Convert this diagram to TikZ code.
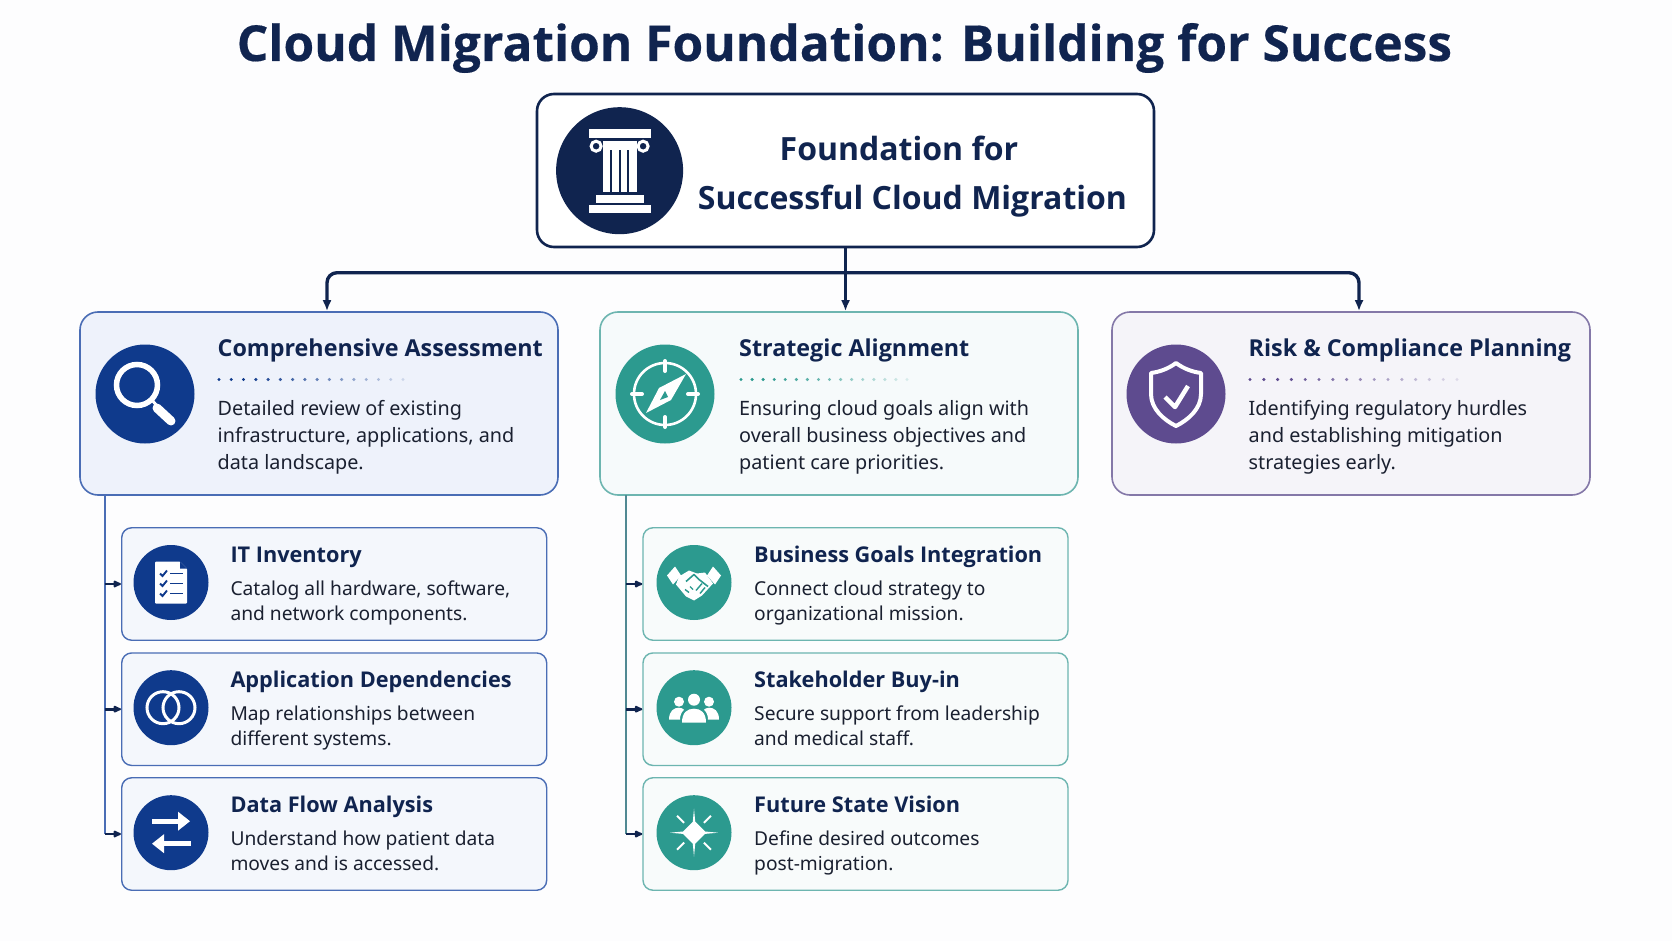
\documentclass[tikz,border=0pt]{standalone}
\usepackage{fontspec}
\setmainfont{Noto Sans}
\newfontfamily\hdfont{Open Sans}
\newfontfamily\bighdfont{Open Sans}[BoldFeatures={FakeBold=0.35}]
\usetikzlibrary{arrows.meta,calc}
\definecolor{pagebg}{HTML}{FDFDFE}
\definecolor{navy}{HTML}{10244F}
\definecolor{inktxt}{HTML}{1A2030}
\definecolor{bluec}{HTML}{0F3A8C}
\definecolor{blueln}{HTML}{4A6DB5}
\definecolor{bluefa}{HTML}{EEF2FB}
\definecolor{bluefb}{HTML}{F4F7FC}
\definecolor{tealc}{HTML}{2C9A8F}
\definecolor{tealln}{HTML}{6DB5B0}
\definecolor{tealfa}{HTML}{F6FAFB}
\definecolor{tealfb}{HTML}{F8FBFB}
\definecolor{purpc}{HTML}{5E4B8F}
\definecolor{purpln}{HTML}{8478A8}
\definecolor{purpfa}{HTML}{F5F4F9}
\newcommand{\figfont}[2]{\fontsize{#1}{#2}\selectfont}
\tikzset{
  x=1pt,y=-1pt,
  rootbox/.style={draw=navy,line width=2.6pt,rounded corners=17pt,fill=white,inner sep=0pt,minimum width=617pt,minimum height=153pt},
  mainbox/.style={rounded corners=18pt,line width=1.6pt,inner sep=0pt,minimum width=478pt,minimum height=183pt},
  subbox/.style={rounded corners=10pt,line width=1.4pt,inner sep=0pt,minimum width=425pt,minimum height=112.5pt},
  disc/.style={circle,inner sep=0pt,minimum size=#1},
  titletext/.style={anchor=base,inner sep=0pt,text=navy,font=\bighdfont\figfont{49.6}{54}\bfseries},
  roottext/.style={anchor=base,inner sep=0pt,text=navy,font=\hdfont\figfont{32}{48}\bfseries},
  headtext/.style={anchor=base west,inner sep=0pt,text=navy,font=\hdfont\figfont{23.3}{28}\bfseries},
  subhead/.style={anchor=base west,inner sep=0pt,text=navy,font=\hdfont\figfont{21.7}{26}\bfseries},
  bodytext/.style={anchor=base west,inner sep=0pt,text=inktxt,font=\figfont{19.8}{26.9},align=left},
  subtext/.style={anchor=base west,inner sep=0pt,text=inktxt,font=\figfont{19.2}{25},align=left},
  trunk/.style={draw=navy,line width=3.4pt},
  stem/.style={line width=1.8pt},
  branch/.style={draw=navy,line width=2.8pt,-{Latex[length=10pt,width=8.5pt,round]}},
}
\newcommand{\dotrow}[3]{%
  \foreach \k in {0,...,15}{
    \pgfmathsetmacro{\op}{min(1,1.15-\k/15)}
    \fill[#3,opacity=\op] ({#1+(#2-#1)*\k/15},379.5) circle (1.7);
  }}
\begin{document}
\begin{tikzpicture}
\useasboundingbox (0,0) rectangle (1672,941);
\fill[pagebg] (0,0) rectangle (1672,941);

\node[titletext] (title) at (844.5,61) {Cloud Migration Foundation: Building for Success};

% root
\node[rootbox] (root) at (845.5,170.5) {};
\node[disc=127pt,fill=navy] (rootdisc) at (619.6,170.7) {};
\node[roottext] (rootl1) at (899,161) {Foundation for};
\node[roottext] (rootl2) at (912.5,210) {Successful Cloud Migration};
\begin{scope}[shift={(rootdisc.center)}]
  \fill[white] (-31,-41.5) rectangle (31,-32.5);
  \fill[white] (-17,-30) rectangle (17,-23.5);
  \draw[white,line width=3pt,fill=navy] (-23.5,-24.5) circle (5);
  \draw[white,line width=3pt,fill=navy] (23.5,-24.5) circle (5);
  \fill[white] (-17,-23.5) rectangle (17,21);
  \foreach \fx in {-9,0,8}{\fill[navy] (\fx-0.9,-21) rectangle (\fx+0.9,21);}
  \fill[white] (-24,24.5) rectangle (24,32.5);
  \fill[white] (-31,34.5) rectangle (31,42.5);
\end{scope}

% main boxes
\node[mainbox,draw=blueln,fill=bluefa] (ca) at (319,403.5) {};
\node[mainbox,draw=tealln,fill=tealfa] (sa) at (839,403.5) {};
\node[mainbox,draw=purpln,fill=purpfa] (rc) at (1351,403.5) {};

% main connectors
\coordinate (bar) at (845.5,272.7);
\coordinate (cain) at ($(ca.north)+(8,0)$);
\coordinate (rcin) at ($(rc.north)+(8,0)$);
\coordinate (sain) at (root.south |- sa.north);
\draw[trunk,-{Latex[length=11pt,width=9pt]},rounded corners=10pt] (bar) -| (cain);
\draw[trunk,-{Latex[length=11pt,width=9pt]},rounded corners=10pt] (bar) -| (rcin);
\draw[trunk,-{Latex[length=11pt,width=9pt]}] (root.south) -- (sain);

% sub boxes
\foreach \nm/\yy in {a/584,b/709.2,c/834}{
  \node[subbox,draw=blueln,fill=bluefb] (ca\nm) at (334.2,\yy) {};
  \node[subbox,draw=tealln,fill=tealfb] (sa\nm) at (855.5,\yy) {};
}

% stems
\coordinate (castem) at (104.7,495);
\coordinate (sastem) at (626,495);
\draw[stem,blueln] (castem) -- (castem |- cac.west);
\draw[stem,tealln!70!navy] (sastem) -- (sastem |- sac.west);
\foreach \nm in {a,b,c}{
  \draw[branch] (castem |- ca\nm.west) -- (ca\nm.west);
  \draw[branch] (sastem |- sa\nm.west) -- (sa\nm.west);
}

% discs
\node[disc=99pt,fill=bluec] (d1) at (145,394) {};
\node[disc=99pt,fill=tealc] (d2) at (665,394) {};
\node[disc=99pt,fill=purpc] (d3) at (1176,394) {};
\foreach \nm/\yy in {a/582.5,b/707.7,c/832.7}{
  \node[disc=75pt,fill=bluec] (dca\nm) at (171,\yy) {};
  \node[disc=75pt,fill=tealc] (dsa\nm) at (694,\yy) {};
}

% main text
\node[headtext] (h1) at (217.5,356.7) {Comprehensive Assessment};
\node[headtext] (h2) at (739,356.7) {Strategic Alignment};
\node[headtext] (h3) at (1248.5,356.7) {Risk \& Compliance Planning};
\dotrow{219}{403}{bluec}
\dotrow{741}{907}{tealc}
\dotrow{1250}{1457}{purpc}
\node[bodytext] (b1) at (217.5,469) {Detailed review of existing\\infrastructure, applications, and\\data landscape.};
\node[bodytext] (b2) at (739,469) {Ensuring cloud goals align with\\overall business objectives and\\patient care priorities.};
\node[bodytext] (b3) at (1248.5,469) {Identifying regulatory hurdles\\and establishing mitigation\\strategies early.};

% sub text
\node[subhead] (ha) at (230.3,562.7) {IT Inventory};
\node[subtext] (ta) at (230.3,620) {Catalog all hardware, software,\\and network components.};
\node[subhead] (hb) at (230.3,687.7) {Application Dependencies};
\node[subtext] (tb) at (230.3,745) {Map relationships between\\different systems.};
\node[subhead] (hc) at (230.3,812.7) {Data Flow Analysis};
\node[subtext] (tc) at (230.3,870) {Understand how patient data\\moves and is accessed.};
\node[subhead] (hd) at (754,562.7) {Business Goals Integration};
\node[subtext] (td) at (754,620) {Connect cloud strategy to\\organizational mission.};
\node[subhead] (he) at (754,687.7) {Stakeholder Buy-in};
\node[subtext] (te) at (754,745) {Secure support from leadership\\and medical staff.};
\node[subhead] (hf) at (754,812.7) {Future State Vision};
\node[subtext] (tf) at (754,870) {Define desired outcomes\\post-migration.};

% icon: magnifier
\begin{scope}[shift={(d1.center)}]
  \draw[white,line width=5.5pt] (-8,-9) circle (20.5);
  \draw[white,line width=3pt] (7,6) -- (12,12);
  \draw[white,line width=9pt,line cap=round] (12,14) -- (26,27);
\end{scope}
% icon: compass
\begin{scope}[shift={(d2.center)}]
  \draw[white,line width=2.6pt] (0,0) circle (31);
  \foreach \a in {0,90,180,270}{
    \draw[white,line width=4pt,line cap=round] (\a:23) -- (\a:33);
  }
  \fill[white] (21,-20) -- (6,6) -- (-19,19) -- (-6,-6) -- cycle;
  \fill[tealc] (0,-3) -- (3,3) -- (-5,6) -- cycle;
\end{scope}
% icon: shield
\begin{scope}[shift={(d3.center)}]
  \draw[white,line width=4pt,line join=round] (0,-31) .. controls (8,-25) and (17,-22) .. (25,-21) -- (25,0) .. controls (25,15) and (12,26) .. (0,32) .. controls (-12,26) and (-25,15) .. (-25,0) -- (-25,-21) .. controls (-17,-22) and (-8,-25) .. (0,-31) -- cycle;
  \draw[white,line width=4.5pt,line join=round] (-11,3) -- (-1,13) -- (12,-8);
\end{scope}
% icon: checklist
\begin{scope}[shift={(dcaa.center)}]
  \fill[white,rounded corners=1pt] (-16,-21) -- (9,-21) -- (16,-14) -- (16,21) -- (-16,21) -- cycle;
  \fill[bluec] (9,-21) -- (9,-14) -- (16,-14) -- cycle;
  \foreach \cy in {-9,1,11}{
    \draw[bluec,line width=1.9pt] (-11,\cy) -- (-8.5,\cy+2.5) -- (-4,\cy-3);
    \draw[bluec,line width=1.9pt] (-1,\cy) -- (12,\cy);
  }
\end{scope}
% icon: rings
\begin{scope}[shift={(dcab.center)}]
  \draw[white,line width=3pt] (-8,0) circle (16);
  \draw[white,line width=3pt] (8,0) circle (16);
\end{scope}
% icon: arrows
\begin{scope}[shift={(dcac.center)}]
  \fill[white] (-19,-14) rectangle (8,-9);
  \fill[white] (7,-21) -- (19,-11.5) -- (7,-2) -- cycle;
  \fill[white] (-7,8.5) rectangle (20,13.5);
  \fill[white] (-7,1.5) -- (-19,11) -- (-7,20.5) -- cycle;
\end{scope}
% icon: handshake
\begin{scope}[shift={(dsaa.center)}]
  \fill[white] (-27,-7) -- (-19,-16) -- (-13,-7) -- (-21,2) -- cycle;
  \fill[white] (27,-7) -- (19,-16) -- (13,-7) -- (21,2) -- cycle;
  \fill[white] (-15,-6) -- (-5,-12) -- (3,-9) -- (11,-10) -- (19,1) -- (8,13) -- (0,18) -- (-8,14) -- (-18,2) -- cycle;
  \draw[tealc,line width=1.6pt,line join=round] (-8,-1) -- (0,-8) -- (5,-3) -- (14,4);
  \draw[tealc,line width=1.4pt] (8,1) -- (2,8);
  \draw[tealc,line width=1.4pt] (11,5) -- (6,11);
  \draw[tealc,line width=1.4pt] (-9,7) -- (-5,10) (-4,4) -- (-1,7);
\end{scope}
% icon: people
\begin{scope}[shift={(dsab.center)}]
  \fill[white] (0,-8) circle (6);
  \fill[white] (-15,-6) circle (5);
  \fill[white] (15,-6) circle (5);
  \fill[white] (-25,12) .. controls (-25,3) and (-20,0) .. (-15,0) .. controls (-13,0) and (-11,1) .. (-10,2) .. controls (-13,5) and (-14,8) .. (-14,12) -- cycle;
  \fill[white] (25,12) .. controls (25,3) and (20,0) .. (15,0) .. controls (13,0) and (11,1) .. (10,2) .. controls (13,5) and (14,8) .. (14,12) -- cycle;
  \fill[white] (-12,15) .. controls (-12,5) and (-7,1) .. (0,1) .. controls (7,1) and (12,5) .. (12,15) -- cycle;
\end{scope}
% icon: star
\begin{scope}[shift={(dsac.center)}]
  \fill[white] (0,-24) -- (1.2,-11) -- (11,-1.2) -- (24,0) -- (11,1.2) -- (1.2,11) -- (0,24) -- (-1.2,11) -- (-11,1.2) -- (-24,0) -- (-11,-1.2) -- (-1.2,-11) -- cycle;
  \foreach \a in {45,135,225,315}{
    \draw[white,line width=2pt] (\a:14) -- (\a:24);
  }
\end{scope}
\end{tikzpicture}
\end{document}
